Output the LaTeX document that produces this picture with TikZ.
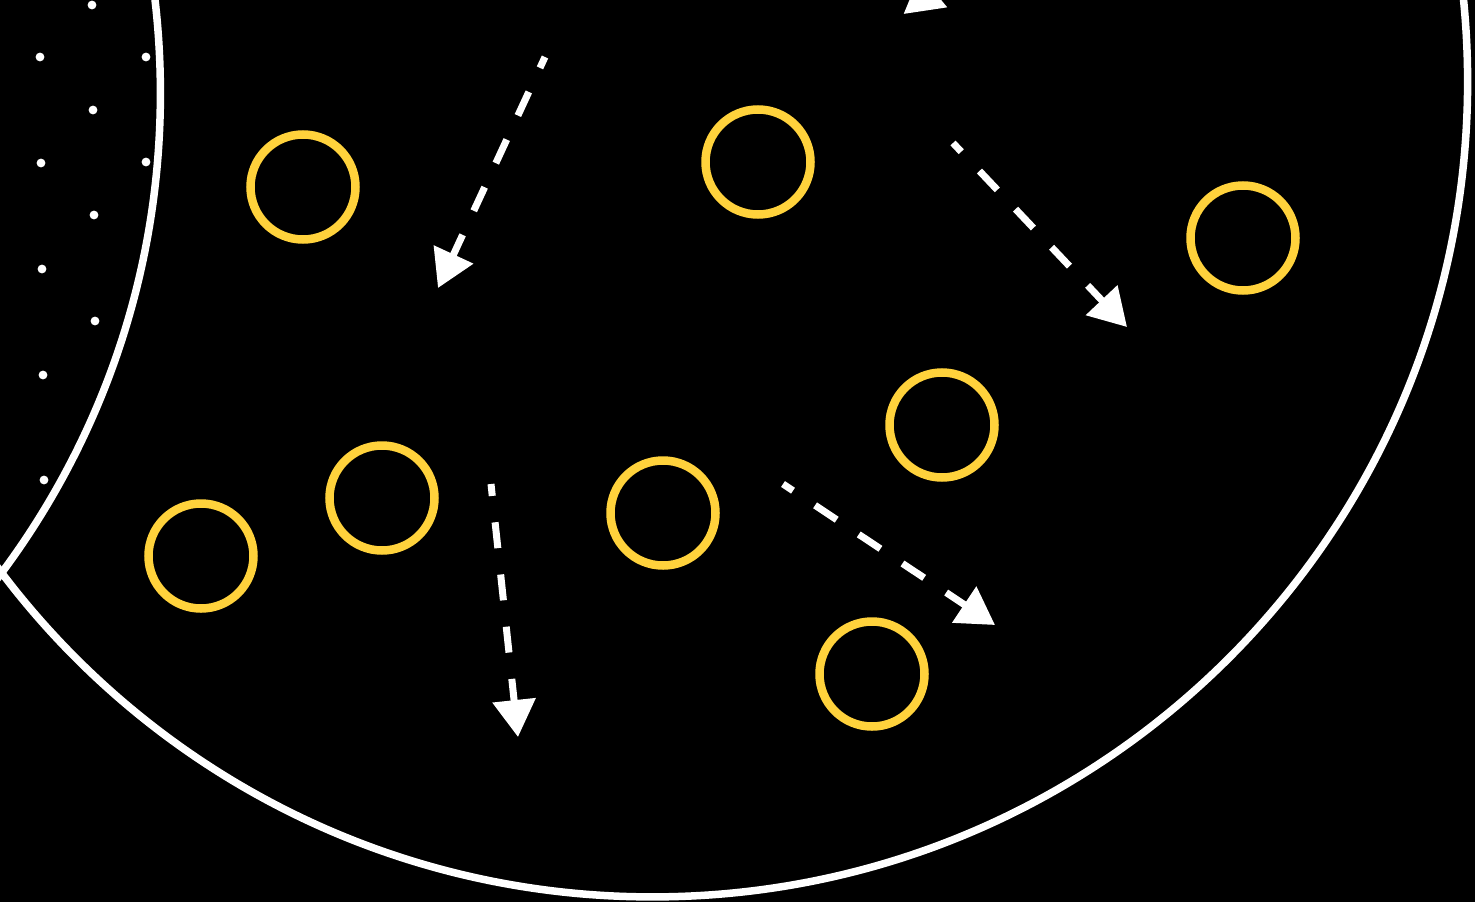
\documentclass[tikz,border=0pt]{standalone}
\usetikzlibrary{arrows.meta}
\definecolor{ring}{RGB}{255,210,60}
\tikzset{
  ringnode/.style={circle, draw=ring, line width=8.5pt, inner sep=0pt, minimum size=105pt},
  flowarrow/.style={draw=white, line width=7pt, dash pattern=on 26pt off 26.5pt, dash phase=14pt,
    -{Triangle[length=37pt,width=42pt]}},
  boundary/.style={draw=white, line width=7.5pt},
  dotmark/.style={fill=white}
}
\begin{document}
\begin{tikzpicture}[x=1pt,y=-1pt]
\useasboundingbox (0,0) rectangle (1475,902);
\fill[black] (0,0) rectangle (1475,902);
\begin{scope}
\clip (0,0) rectangle (1475,902);
% boundaries
\draw[boundary] (652.4,81.7) circle[radius=815.2];
\draw[boundary] (-643,93.3) circle[radius=803.4];
% dots
\foreach \p in {(92,5),(40,57),(146,57),(93,110),(41,163),(146,162),(94,215),(42,269),(95,321),(43,375),(44,480)}
  \fill[dotmark] \p circle[radius=4.4];
% rings
\node[ringnode] (r1) at (303,187) {};
\node[ringnode] (r2) at (758,162) {};
\node[ringnode] (r3) at (1243,238) {};
\node[ringnode] (r4) at (942,425) {};
\node[ringnode] (r5) at (382,498) {};
\node[ringnode] (r6) at (201,556) {};
\node[ringnode] (r7) at (663,513) {};
\node[ringnode] (r8) at (872,674) {};
% arrows
\coordinate (a1s) at (545,57);   \coordinate (a1e) at (438,288);
\coordinate (a2s) at (953,143);  \coordinate (a2e) at (1127,327);
\coordinate (a3s) at (491,484);  \coordinate (a3e) at (518,737);
\coordinate (a4s) at (783,484);  \coordinate (a4e) at (995,625);
\coordinate (a5s) at (926,14);   \coordinate (a5e) at (920,-26);
\draw[flowarrow] (a1s) -- (a1e);
\draw[flowarrow] (a2s) -- (a2e);
\draw[flowarrow] (a3s) -- (a3e);
\draw[flowarrow] (a4s) -- (a4e);
\draw[flowarrow, dash phase=40pt] (a5s) -- (a5e);
\end{scope}
\end{tikzpicture}
\end{document}
